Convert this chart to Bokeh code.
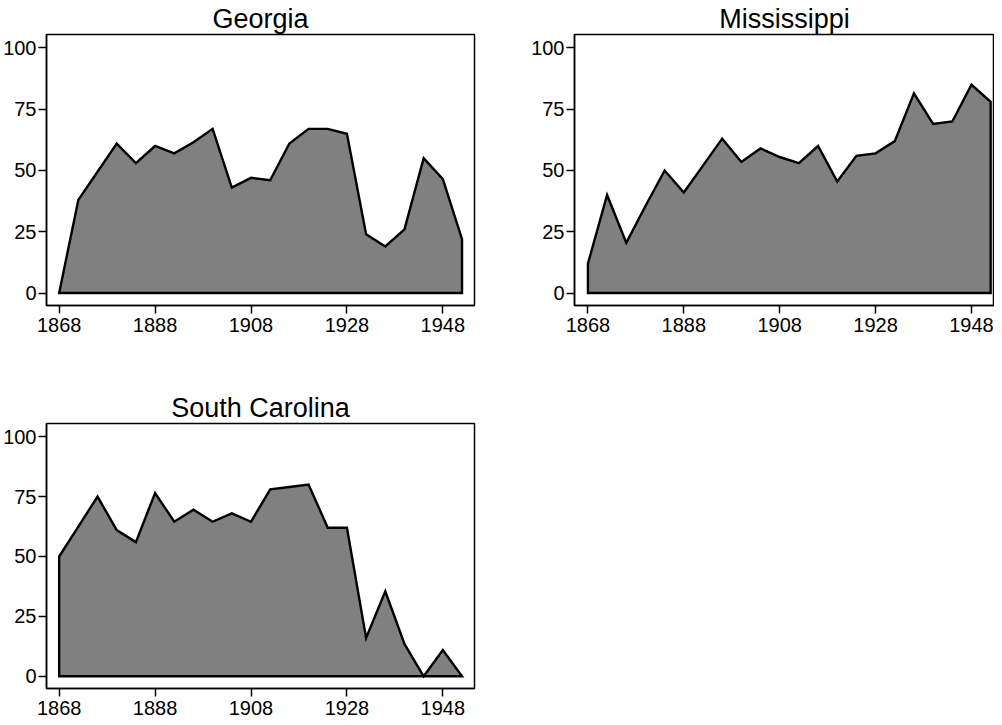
from bokeh.plotting import figure
from bokeh.layouts import column, row
from bokeh.models import FixedTicker, Range1d
from bokeh.embed import file_html
from bokeh.resources import INLINE

years = [1868, 1872, 1876, 1880, 1884, 1888, 1892, 1896, 1900, 1904, 1908,
         1912, 1916, 1920, 1924, 1928, 1932, 1936, 1940, 1944, 1948, 1952]
georgia = [0, 38, 49.5, 61, 53, 60, 57, 61.5, 67, 43, 47,
           46, 61, 67, 67, 65, 24, 19, 26, 55, 46.5, 22]
mississippi = [12, 40, 20.5, 35.5, 50, 41, 52, 63, 53.5, 59, 55.5,
               53, 60, 45.5, 56, 57, 62, 81.5, 69, 70, 85, 78]
south_carolina = [50, 62.5, 75, 61, 56, 76.5, 64.5, 69.5, 64.5, 68, 64.5,
                  78, 79, 80, 62, 62, 16, 35.5, 13.5, 0, 11, 0]
x_ticks = [1868, 1888, 1908, 1928, 1948]
y_ticks = [0, 25, 50, 75, 100]

FONT = "Liberation Sans"


def make(title, vals, fw, fh, xr, mbl, mbr, mbb):
    p = figure(frame_width=fw, frame_height=fh, x_range=Range1d(*xr),
               y_range=Range1d(-5.1, 105.5), output_backend="svg",
               toolbar_location=None, min_border_left=mbl,
               min_border_right=mbr, min_border_top=0,
               min_border_bottom=mbb, background_fill_color="white",
               border_fill_color="white")
    p.title.text = title
    p.title.align = "center"
    p.title.text_font = FONT
    p.title.text_font_size = "27px"
    p.title.text_font_style = "normal"
    p.title.text_color = "black"
    p.title.standoff = 2
    px = years + [years[-1], years[0]]
    py = vals + [0, 0]
    p.patch(px, py, fill_color="#808080", line_color="black",
            line_width=2.4, line_join="miter")
    p.xaxis.ticker = FixedTicker(ticks=x_ticks)
    p.yaxis.ticker = FixedTicker(ticks=y_ticks)
    p.xgrid.visible = False
    p.ygrid.visible = False
    for ax in (p.xaxis, p.yaxis):
        ax.axis_line_color = "black"
        ax.axis_line_width = 1.5
        ax.major_tick_line_color = "black"
        ax.major_tick_line_width = 1.5
        ax.major_tick_out = 8
        ax.major_tick_in = 0
        ax.minor_tick_line_color = None
        ax.major_label_text_font = FONT
        ax.major_label_text_font_size = "20px"
        ax.major_label_text_color = "black"
    p.yaxis.major_label_standoff = 2
    p.xaxis.major_label_standoff = 4
    p.outline_line_color = "black"
    p.outline_line_width = 1.5
    p.outline_line_alpha = 1
    return p


p1 = make("Georgia", georgia, 428, 271, (1865.36, 1954.6), 37, 17, 84)
p2 = make("Mississippi", mississippi, 420, 271, (1865.2, 1952.8), 83, 0, 84)
p3 = make("South Carolina", south_carolina, 428, 265, (1865.36, 1954.6), 37, 17, 34)

layout = column(row(p1, p2), p3)
open("out.html", "w").write(file_html(layout, INLINE))
